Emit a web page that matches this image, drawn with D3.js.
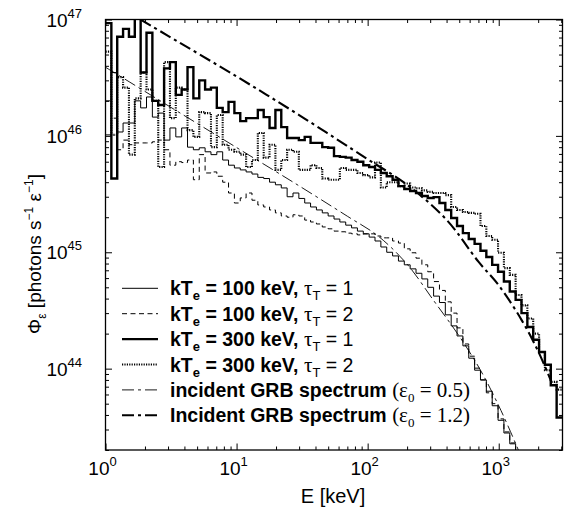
<!DOCTYPE html>
<html><head><meta charset="utf-8">
<script src="https://cdn.jsdelivr.net/npm/d3@7"></script>
<style>body{margin:0;background:#fff}svg{display:block}</style>
</head><body>
<svg id="chart" width="571" height="508"></svg>
<script>
// ---------- data ----------
const xDomain = [1, 3066];          // keV
const yDomain = [2e43, 1e47];
const nBins = 78;                   // log-spaced energy bins of the Monte Carlo spectra
const xTickValues = [1, 10, 100, 1000];
const xTickExp = ["0", "1", "2", "3"];
const yTickValues = [1e44, 1e45, 1e46, 1e47];
const yTickExp = ["44", "45", "46", "47"];

// kTe = 100 keV, tau = 1 (thin solid)
const phi100t1 = [1.02e46,3.5e46,1.08e46,1.29e46,1.29e46,2.0e46,1.74e46,2.16e46,1.45e46,1.57e46,
  9.2e45,1.17e46,9.8e45,1.17e46,8.0e45,7.6e45,7.9e45,7.3e45,6.9e45,7.3e45,
  6.2e45,5.6e45,5.3e45,5.1e45,4.9e45,4.7e45,4.4e45,4.3e45,4.0e45,3.8e45,
  3.57e45,3.0e45,3.23e45,2.9e45,2.65e45,2.45e45,2.31e45,2.18e45,2.05e45,1.93e45,
  1.82e45,1.71e45,1.62e45,1.52e45,1.44e45,1.35e45,1.25e45,1.11e45,1.0e45,9.3e44,
  8.4e44,7.8e44,7.2e44,6.6e44,5.9e44,5.0e44,4.2e44,3.7e44,2.9e44,2.33e44,
  1.91e44,1.57e44,1.23e44,9.7e43,8.0e43,6.4e43,4.8e43,3.6e43,2.8e43,2.26e43,
  1.7e43,1.3e43];
// kTe = 100 keV, tau = 2 (thin dashed)
const phi100t2 = [2.0e46,1.42e46,7.6e45,9.2e45,8.4e45,8.7e45,8.7e45,8.7e45,8.9e45,9.2e45,
  7.6e45,5.6e45,6.0e45,5.9e45,6.2e45,4.2e45,6.9e45,4.8e45,4.9e45,4.5e45,
  4.0e45,3.23e45,2.65e45,2.93e45,3.23e45,2.8e45,2.55e45,2.45e45,2.31e45,2.18e45,
  2.05e45,2.0e45,2.1e45,2.05e45,1.89e45,1.82e45,1.75e45,1.65e45,1.59e45,1.52e45,
  1.50e45,1.46e45,1.44e45,1.41e45,1.44e45,1.44e45,1.38e45,1.33e45,1.33e45,1.25e45,
  1.2e45,1.07e45,9.9e44,8.9e44,7.8e44,6.8e44,5.6e44,4.7e44,3.75e44,3.0e44,
  2.24e44,1.63e44,1.28e44,1.01e44,8.0e43,6.2e43,5.0e43,3.7e43,2.86e43,2.3e43,
  1.78e43,1.35e43];
// kTe = 300 keV, tau = 1 (thick solid)
const phi300t1 = [9.3e46,4.3e45,7.1e46,8.3e46,7.1e46,1.05e47,3.5e46,7.7e46,2.0e46,1.84e46,
  3.8e46,4.3e46,2.25e46,2.5e46,3.9e46,2.1e46,3.0e46,2.5e46,2.6e46,1.74e46,
  1.6e46,1.96e46,1.57e46,1.34e46,1.42e46,1.42e46,1.67e46,1.45e46,1.17e46,1.67e46,
  1.19e46,9.6e45,9.6e45,9.2e45,9.8e45,8.7e45,8.7e45,8.0e45,7.9e45,6.7e45,
  6.6e45,6.5e45,6.2e45,6.0e45,5.6e45,5.4e45,5.1e45,4.8e45,4.5e45,4.2e45,
  3.7e45,3.5e45,3.36e45,3.23e45,3.04e45,2.93e45,2.98e45,2.65e45,2.31e45,1.97e45,
  1.68e45,1.46e45,1.30e45,1.18e45,1.03e45,9.1e44,7.8e44,6.8e44,5.6e44,4.6e44,
  3.9e44,3.0e44,2.28e44,1.77e44,1.39e44,1.08e44,7.2e43,3.8e43];
// kTe = 300 keV, tau = 2 (thick dotted)
const phi300t2 = [5.3e46,1.02e46,3.2e46,2.6e46,6.9e45,2.1e46,3.5e46,2.5e46,2.0e46,5.4e45,
  4.3e46,1.42e46,2.6e46,2.5e46,1.12e46,9.8e45,1.6e46,1.57e46,8.0e45,1.51e46,
  8.4e45,7.6e45,7.3e45,6.9e45,5.4e45,6.2e45,1.06e46,6.5e45,8.4e45,5.1e45,
  6.2e45,7.6e45,7.3e45,5.1e45,5.1e45,5.6e45,5.3e45,4.3e45,4.2e45,4.2e45,
  5.3e45,5.1e45,5.1e45,4.8e45,4.6e45,4.4e45,5.9e45,3.6e45,4.0e45,4.0e45,
  3.7e45,3.9e45,3.6e45,3.55e45,3.4e45,3.3e45,3.23e45,3.23e45,3.1e45,2.45e45,
  2.31e45,2.22e45,2.18e45,2.14e45,1.68e45,1.38e45,1.28e45,9.9e44,7.3e44,6.4e44,
  4.3e44,3.5e44,2.7e44,2.0e44,1.39e44,9.7e43,7.7e43,6.6e43];
// incident GRB spectra [E keV, Phi]
const grbEps05 = [[1,3.89e46],[3,1.82e46],[10,7.94e45],[30,3.72e45],[70,2.04e45],[120,1.38e45],
  [200,7.9e44],[316,3.9e44],[500,1.9e44],[722,9.8e43],[1000,4.8e43],[1377,2.14e43],[1600,1.41e43]];
const grbEps12 = [[1.85,1.0e47],[3,7.24e46],[10,3.24e46],[30,1.51e46],[100,6.3e45],[200,3.8e45],
  [400,1.9e45],[700,8.3e44],[1000,5.2e44],[1500,2.6e44],[2000,1.41e44],[2500,7.9e43]];

const legendLabels = [
  {main:"kT", sub:"e", rest:" = 100 keV, ", greek:"τ", gsub:"T", tail:" = 1"},
  {main:"kT", sub:"e", rest:" = 100 keV, ", greek:"τ", gsub:"T", tail:" = 2"},
  {main:"kT", sub:"e", rest:" = 300 keV, ", greek:"τ", gsub:"T", tail:" = 1"},
  {main:"kT", sub:"e", rest:" = 300 keV, ", greek:"τ", gsub:"T", tail:" = 2"},
  {text:"incident GRB spectrum ", eps:"0", val:" = 0.5)"},
  {text:"Incident GRB spectrum ", eps:"0", val:" = 1.2)"}
];

// ---------- layout ----------
const L = 105.5, R = 562.5, T = 19.5, B = 450;
const svg = d3.select("#chart");
const x = d3.scaleLog().domain(xDomain).range([L, R]);
const y = d3.scaleLog().domain(yDomain).range([B, T]);
const sans = "'Liberation Sans', Arial, Helvetica, sans-serif";
const serif = "'Liberation Serif', 'Times New Roman', serif";

const styles = [
  {w:1.0, dash:null},
  {w:1.0, dash:"5,3.5"},
  {w:2.4, dash:null},
  {w:2.1, dash:"1.2,1.2"},
  {w:0.9, dash:"12,4,3,4"},
  {w:2.1, dash:"12,4,3,4"}
];

svg.append("defs").append("clipPath").attr("id","plotclip")
  .append("rect").attr("x",L).attr("y",T).attr("width",R-L).attr("height",B-T);

const plot = svg.append("g").attr("clip-path","url(#plotclip)");

const logStep = Math.log10(xDomain[1]/xDomain[0]) / nBins;
const edges = d3.range(nBins + 1).map(i => xDomain[0] * Math.pow(10, i * logStep));

const stepLine = d3.line().x(d => x(d[0])).y(d => y(d[1])).curve(d3.curveStepAfter);
function histPoints(vals){
  const pts = vals.map((v,i) => [edges[i], v]);
  pts.push([edges[vals.length], vals[vals.length-1]]);
  return pts;
}
const series = [phi100t1, phi100t2, phi300t1, phi300t2];
series.forEach((vals, i) => {
  plot.append("path").attr("d", stepLine(histPoints(vals)))
    .attr("fill","none").attr("stroke","#000")
    .attr("stroke-width", styles[i].w)
    .attr("stroke-dasharray", styles[i].dash)
    .attr("stroke-linejoin","miter");
});
const smooth = d3.line().x(d => x(d[0])).y(d => y(d[1])).curve(d3.curveCatmullRom.alpha(0.5));
[grbEps05, grbEps12].forEach((pts, j) => {
  const s = styles[4 + j];
  plot.append("path").attr("d", smooth(pts)).attr("fill","none").attr("stroke","#000")
    .attr("stroke-width", s.w).attr("stroke-dasharray", s.dash);
});

// ---------- axes (inward ticks on all sides) ----------
const isMajor = v => Math.abs(Math.log10(v) - Math.round(Math.log10(v))) < 1e-6;
const xAll = x.ticks(), yAll = y.ticks();
const xMinor = xAll.filter(v => !isMajor(v)), yMinor = yAll.filter(v => !isMajor(v));
function addAxis(gen, tr, vals, size){
  svg.append("g").attr("transform", tr)
    .call(gen.tickValues(vals).tickSizeInner(-size).tickSizeOuter(0).tickFormat(""))
    .call(g => g.select(".domain").remove())
    .call(g => g.selectAll("line").attr("stroke","#000").attr("stroke-width",1));
}
addAxis(d3.axisBottom(x), `translate(0,${B})`, xTickValues, 6.5);
addAxis(d3.axisBottom(x), `translate(0,${B})`, xMinor, 3.5);
addAxis(d3.axisTop(x), `translate(0,${T})`, xTickValues, 6.5);
addAxis(d3.axisTop(x), `translate(0,${T})`, xMinor, 3.5);
addAxis(d3.axisLeft(y), `translate(${L},0)`, yTickValues, 6.5);
addAxis(d3.axisLeft(y), `translate(${L},0)`, yMinor, 3.5);
addAxis(d3.axisRight(y), `translate(${R},0)`, yTickValues, 6.5);
addAxis(d3.axisRight(y), `translate(${R},0)`, yMinor, 3.5);

svg.append("rect").attr("x",L).attr("y",T).attr("width",R-L).attr("height",B-T)
  .attr("fill","none").attr("stroke","#000").attr("stroke-width",1.3);

// tick labels
xTickValues.forEach((v,i) => {
  const t = svg.append("text").attr("x", x(v) - 3).attr("y", 475)
    .attr("text-anchor","middle").attr("font-family", sans).attr("font-size", 19);
  t.append("tspan").text("10");
  t.append("tspan").attr("dy", -9).attr("font-size", 13).text(xTickExp[i]);
});
yTickValues.forEach((v,i) => {
  const t = svg.append("text").attr("x", 82).attr("y", y(v) + 7)
    .attr("text-anchor","end").attr("font-family", sans).attr("font-size", 19);
  t.append("tspan").text("10");
  t.append("tspan").attr("dy", -9).attr("font-size", 13).text(yTickExp[i]);
});

// axis titles
svg.append("text").attr("x", 333).attr("y", 503).attr("text-anchor","middle")
  .attr("font-family", sans).attr("font-size", 20).text("E [keV]");
const yl = svg.append("text").attr("transform","translate(41,254) rotate(-90)")
  .attr("text-anchor","middle").attr("font-family", sans).attr("font-size", 19);
yl.append("tspan").text("Φ");
yl.append("tspan").attr("dy", 5).attr("font-size", 12).text("ε");
yl.append("tspan").attr("dy", -5).text(" [photons s");
yl.append("tspan").attr("dy", -8).attr("font-size", 12).text("−1");
yl.append("tspan").attr("dy", 8).text(" ε");
yl.append("tspan").attr("dy", -8).attr("font-size", 12).text("−1");
yl.append("tspan").attr("dy", 8).text("]");

// legend
const legY0 = 288.3, legDy = 25.4;
legendLabels.forEach((lab, i) => {
  const cy = legY0 + i * legDy;
  svg.append("line").attr("x1", 122).attr("x2", 158).attr("y1", cy).attr("y2", cy)
    .attr("stroke","#000").attr("stroke-width", styles[i].w).attr("stroke-dasharray", styles[i].dash);
  const t = svg.append("text").attr("x", 170).attr("y", cy + 7)
    .attr("font-family", sans).attr("font-size", 19.5).attr("font-weight","bold");
  if (lab.main) {
    t.append("tspan").text(lab.main);
    t.append("tspan").attr("dy", 5).attr("font-size", 13).text(lab.sub);
    t.append("tspan").attr("dy", -5).text(lab.rest);
    t.append("tspan").attr("font-family", serif).attr("font-weight","normal").attr("font-size", 21).text(lab.greek);
    t.append("tspan").attr("dy", 5).attr("font-weight","normal").attr("font-size", 13).text(lab.gsub);
    t.append("tspan").attr("dy", -5).attr("font-weight","normal").text(lab.tail);
  } else {
    t.append("tspan").text(lab.text);
    t.append("tspan").attr("font-family", serif).attr("font-weight","normal").attr("font-size", 21).text("(ε");
    t.append("tspan").attr("dy", 5).attr("font-family", serif).attr("font-weight","normal").attr("font-size", 13).text(lab.eps);
    t.append("tspan").attr("dy", -5).attr("font-family", serif).attr("font-weight","normal").attr("font-size", 21).text(lab.val);
  }
});
</script>
</body></html>
